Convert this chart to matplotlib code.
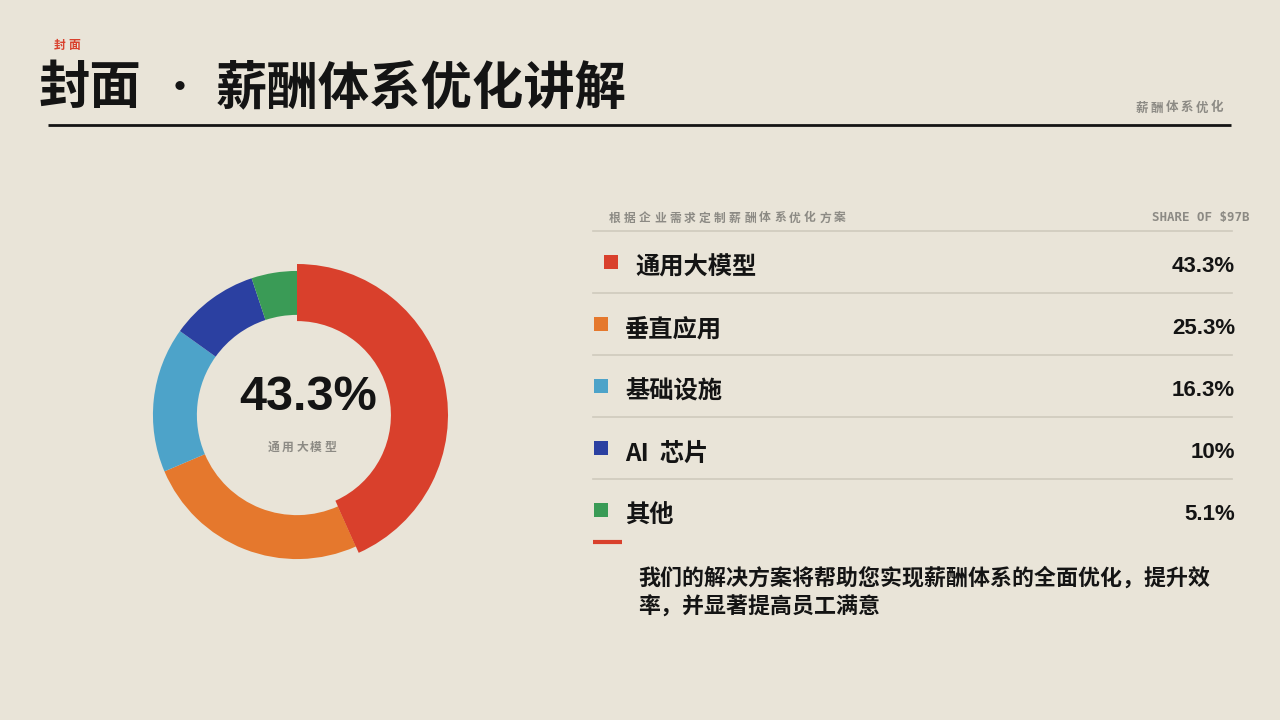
import matplotlib.pyplot as plt

plt.rcParams['font.family'] = ['Noto Sans CJK SC', 'DejaVu Sans']

# data
categories = ["通用大模型", "垂直应用", "基础设施", "AI  芯片", "其他"]
shares = [43.3, 25.3, 16.3, 10, 5.1]
value_labels = ["43.3%", "25.3%", "16.3%", "10%", "5.1%"]
colors = ["#D9402C", "#E5782D", "#4DA3C9", "#2B40A1", "#3A9B56"]
active = 0

title_tag = "封面"
title_left = "封面"
title_right = "薪酬体系优化讲解"
corner_tag = "薪酬体系优化"
list_header = "根据企业需求定制薪酬体系优化方案"
list_unit = "SHARE OF $97B"
summary = ["我们的解决方案将帮助您实现薪酬体系的全面优化，提升效", "率，并显著提高员工满意"]

BG = "#E9E4D8"
INK = "#141414"
GRAY = "#8C8A84"
RULE = "#CFCABD"

fig = plt.figure(figsize=(12.8, 7.2), dpi=100, facecolor=BG)
ax = fig.add_axes([0, 0, 1, 1])
ax.set_xlim(0, 1280)
ax.set_ylim(720, 0)
ax.axis("off")
ax.set_facecolor(BG)


def spaced(x, y, s, step, ha="left", **kw):
    # draw characters one by one with letter spacing
    if ha == "right":
        x = x - step * (len(s) - 1)
    elif ha == "center":
        x = x - step * (len(s) - 1) / 2
    for i, ch in enumerate(s):
        ax.text(x + i * step, y, ch, ha="center", va="center", **kw)


# header
spaced(60, 46, title_tag, 14, fontsize=8.5, color="#D9402C", fontweight="bold")
ax.text(38, 88, title_left, fontsize=37, fontweight="black", color=INK, va="center", ha="left")
ax.text(180, 89, "·", fontsize=26, fontweight="black", color=INK, va="center", ha="center")
ax.text(216, 88, title_right, fontsize=37, fontweight="black", color=INK, va="center", ha="left")
ax.plot([48, 1231], [125, 125], color=INK, lw=2, solid_capstyle="butt")
spaced(1217, 108, corner_tag, 15, ha="right", fontsize=9, color=GRAY, fontweight="bold")

# list panel
spaced(615, 218, list_header, 15, fontsize=8.5, color=GRAY, fontweight="bold")
ax.text(1250, 218, list_unit, fontsize=9, color=GRAY, fontweight="bold",
        family="DejaVu Sans Mono", ha="right", va="center")
ax.plot([593, 1232], [231, 231], color=RULE, lw=1.2)

row_y0, row_step = 266, 62
for i, (cat, val, c) in enumerate(zip(categories, value_labels, colors)):
    y = row_y0 + i * row_step
    dx = 10 if i == active else 0
    ax.scatter([601 + dx], [y - 4], s=100, marker="s", color=c, linewidths=0)
    ax.text(625 + dx, y + 2, cat, fontsize=17.5, fontweight="bold", color=INK, va="center", ha="left")
    ax.text(1235, y, val, fontsize=16, fontweight="bold", color=INK, va="center", ha="right",
            family="Liberation Sans")
    if i < len(categories) - 1:
        ax.plot([593, 1232], [y + 27, y + 27], color=RULE, lw=1.2)

ax.plot([593, 622], [542, 542], color="#D9402C", lw=3, solid_capstyle="butt")
for j, line in enumerate(summary):
    ax.text(638, 578 + j * 29, line, fontsize=15.8, fontweight="bold", color=INK, va="center", ha="left")

# donut
cx, cy, r = 297, 415, 151
dax = fig.add_axes([(cx - r) / 1280, (720 - cy - r) / 720, 2 * r / 1280, 2 * r / 720])
dax.set_xlim(-1, 1)
dax.set_ylim(-1, 1)
dax.set_aspect("equal")
dax.axis("off")
dax.pie(shares, colors=colors, startangle=90, counterclock=False, radius=0.954,
        wedgeprops=dict(width=0.291, linewidth=0))
hl = [c if i == active else "none" for i, c in enumerate(colors)]
dax.pie(shares, colors=hl, startangle=90, counterclock=False, radius=1.0,
        wedgeprops=dict(width=0.378, linewidth=0))
dax.set_xlim(-1, 1)
dax.set_ylim(-1, 1)

ax.text(308, 397, value_labels[active], fontsize=35, fontweight="bold", color=INK,
        ha="center", va="center", family="Liberation Sans")
spaced(302, 447, categories[active], 14, ha="center", fontsize=8.5, color=GRAY, fontweight="bold")

fig.savefig("out.png", dpi=100, facecolor=BG)
